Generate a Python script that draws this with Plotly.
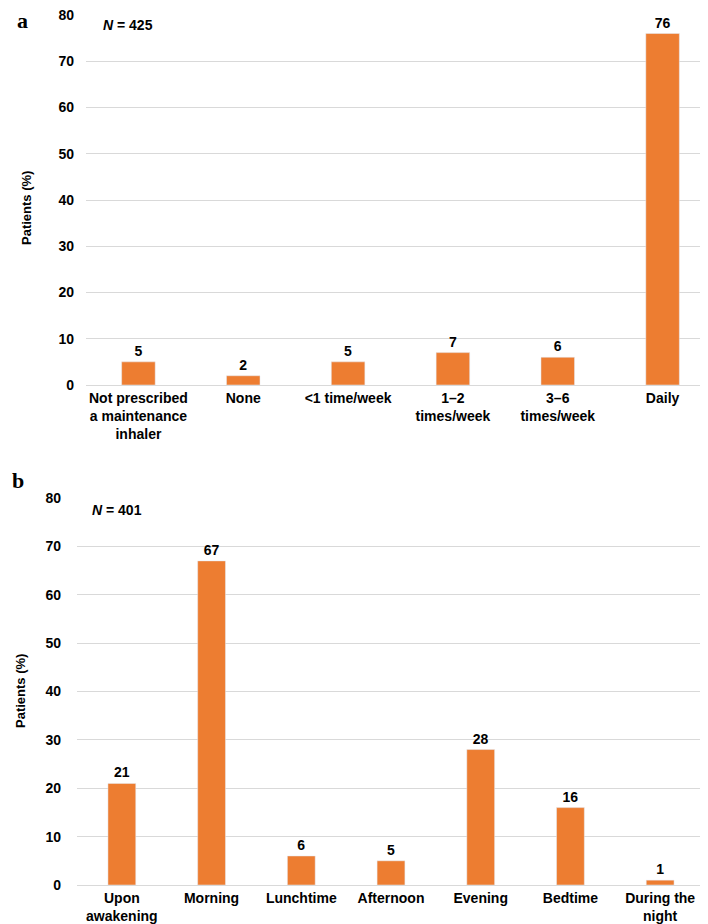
import plotly.graph_objects as go

# panel a: frequency of maintenance inhaler use
freq_labels = ['Not prescribed<br>a maintenance<br>inhaler', 'None', '<1 time/week',
               '1\u20132<br>times/week', '3\u20136<br>times/week', 'Daily']
freq_values = [5, 2, 5, 7, 6, 76]

# panel b: time of day
time_labels = ['Upon<br>awakening', 'Morning', 'Lunchtime', 'Afternoon',
               'Evening', 'Bedtime', 'During the<br>night']
time_values = [21, 67, 6, 5, 28, 16, 1]

y_ticks = [0, 10, 20, 30, 40, 50, 60, 70, 80]

W, H = 708, 924
BAR = '#ED7D31'
FONT = 'Liberation Sans, Arial, sans-serif'
bold = dict(family=FONT, size=14, color='#000000', weight='bold')


def px_x(p):
    return p / W


def px_y(p):
    return 1 - p / H


fig = go.Figure()
fig.add_trace(go.Bar(
    x=freq_labels, y=freq_values, marker_color=BAR, width=0.32,
    text=freq_values, textposition='outside', cliponaxis=False,
    textfont=bold, xaxis='x', yaxis='y', showlegend=False
))
fig.add_trace(go.Bar(
    x=time_labels, y=time_values, marker_color=BAR, width=0.31,
    text=time_values, textposition='outside', cliponaxis=False,
    textfont=bold, xaxis='x2', yaxis='y2', showlegend=False
))

yax = dict(range=[0, 80], tickvals=y_ticks, showgrid=True, gridcolor='#d9d9d9',
           gridwidth=1, zeroline=False, showline=False, ticks='',
           tickfont=bold, automargin=False, fixedrange=True,
           ticklabeloverflow='allow')
xax = dict(showgrid=False, showline=True, linecolor='#d9d9d9', linewidth=1,
           ticks='', tickfont=bold, automargin=False, fixedrange=True)

fig.update_layout(
    width=W, height=H, margin=dict(l=0, r=0, t=0, b=0),
    paper_bgcolor='white', plot_bgcolor='white',
    xaxis=dict(xax, domain=[px_x(78), px_x(707)], anchor='y'),
    yaxis=dict(yax, domain=[px_y(377), px_y(7)], anchor='x', ticklabelstandoff=11),
    xaxis2=dict(xax, domain=[px_x(69), px_x(697)], anchor='y2'),
    yaxis2=dict(yax, domain=[px_y(877), px_y(490)], anchor='x2', ticklabelstandoff=15),
    font=dict(family=FONT),
)

serif = dict(family='Liberation Serif, Times New Roman, serif', size=22,
             color='black', weight='bold')
annots = [
    dict(text='a', x=px_x(7), y=px_y(-2), xanchor='left', yanchor='top', font=serif),
    dict(text='b', x=px_x(2), y=px_y(458), xanchor='left', yanchor='top', font=serif),
    dict(text='<i>N</i> = 425', x=px_x(93), y=px_y(17), xanchor='left',
         yanchor='middle', font=bold),
    dict(text='<i>N</i> = 401', x=px_x(82), y=px_y(502), xanchor='left',
         yanchor='middle', font=bold),
    dict(text='Patients (%)', x=px_x(18), y=px_y(200), textangle=-90,
         xanchor='center', yanchor='middle',
         font=dict(family=FONT, size=13, color='black', weight='bold')),
    dict(text='Patients (%)', x=px_x(12), y=px_y(683), textangle=-90,
         xanchor='center', yanchor='middle',
         font=dict(family=FONT, size=13, color='black', weight='bold')),
]
for a in annots:
    fig.add_annotation(xref='paper', yref='paper', showarrow=False, **a)

fig.write_html('out.html')
